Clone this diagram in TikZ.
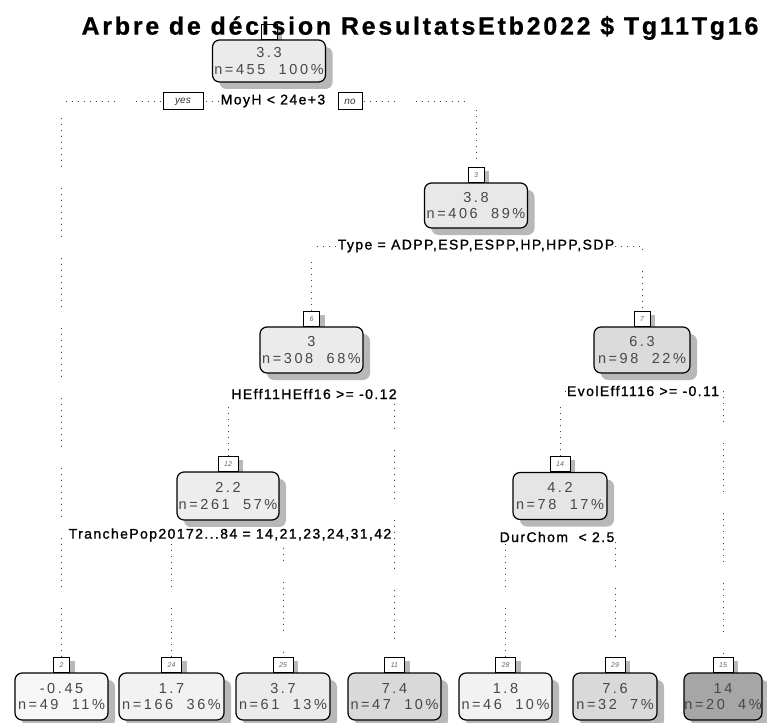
\documentclass[tikz,border=0pt]{standalone}
\usepackage{fontspec}
\setmainfont{Liberation Sans}
\newfontfamily\boxfont[LetterSpace=18]{Liberation Sans}
\newfontfamily\splitfam[LetterSpace=10,FakeBold=1.2]{Liberation Sans}
\newfontfamily\titlefam[LetterSpace=11,FakeBold=0.8]{Liberation Sans}
\usetikzlibrary{shadows}
\begin{document}
\begin{tikzpicture}[x=1pt,y=-1pt,
  dotline/.style={line width=0.9pt, black!75,
    dash pattern=on 1pt off 5pt on 1pt off 5pt on 1pt off 5pt on 1pt off 5pt on 1pt off 5pt on 1pt off 5pt on 1pt off 5pt on 1pt off 5pt on 1pt off 21pt},
  tbox/.style={draw, line width=1.2pt, rounded corners=7pt, inner sep=0pt, align=center,
    text=black!72, font=\boxfont\fontsize{14.5}{16.5}\selectfont,
    drop shadow={shadow xshift=7pt, shadow yshift=-7pt, fill=black!28, opacity=1}},
  nbox/.style={draw, line width=1pt, fill=white, inner sep=0pt, minimum width=16pt, minimum height=15pt,
    anchor=south, text=black!60, font=\fontsize{7}{8}\selectfont\itshape,
    drop shadow={shadow xshift=5pt, shadow yshift=-3pt, fill=black!28, opacity=1}},
  split/.style={fill=white, inner sep=1pt, text=black, font=\splitfam\fontsize{14}{16}\selectfont},
  yn/.style={draw, line width=1pt, fill=white, inner sep=0pt, minimum height=17pt, text=black!80,
    font=\fontsize{10}{12}\selectfont\itshape}]
\useasboundingbox (0,0) rectangle (767,722);
\fill[white] (0,0) rectangle (767,722);

% number boxes and main boxes
\node[nbox] (n1num) at (269,40) {};
\node[tbox, fill=black!8, minimum width=113pt, minimum height=42pt] (n1) at (269,61) {3.3\\n=455\ \ 100\%};

\node[nbox] (n3num) at (476,183) {3};
\node[tbox, fill=black!9, minimum width=103pt, minimum height=45pt] (n3) at (476,205.5) {3.8\\n=406\ \ 89\%};

\node[nbox] (n6num) at (311.5,327) {6};
\node[tbox, fill=black!8, minimum width=103pt, minimum height=46pt] (n6) at (311.5,350) {3\\n=308\ \ 68\%};

\node[nbox] (n7num) at (642,327) {7};
\node[tbox, fill=black!14, minimum width=96pt, minimum height=46pt] (n7) at (642,350) {6.3\\n=98\ \ 22\%};

\node[nbox, minimum width=20pt] (n12num) at (228,472) {12};
\node[tbox, fill=black!7, minimum width=102pt, minimum height=48pt] (n12) at (228,496) {2.2\\n=261\ \ 57\%};

\node[nbox, minimum width=20pt] (n14num) at (560,472) {14};
\node[tbox, fill=black!10, minimum width=94pt, minimum height=47pt] (n14) at (560,496) {4.2\\n=78\ \ 17\%};

\node[nbox] (l2num) at (61.5,673) {2};
\node[tbox, fill=black!3, minimum width=93pt, minimum height=47pt] (l2) at (61.5,696.5) {-0.45\\n=49\ \ 11\%};

\node[nbox, minimum width=20pt] (l24num) at (171.5,673) {24};
\node[tbox, fill=black!5, minimum width=105pt, minimum height=47pt] (l24) at (171.5,696.5) {1.7\\n=166\ \ 36\%};

\node[nbox, minimum width=20pt] (l25num) at (283,673) {25};
\node[tbox, fill=black!8, minimum width=94pt, minimum height=47pt] (l25) at (283,696.5) {3.7\\n=61\ \ 13\%};

\node[nbox, minimum width=20pt] (l11num) at (394.5,673) {11};
\node[tbox, fill=black!15, minimum width=93pt, minimum height=47pt] (l11) at (394.5,696.5) {7.4\\n=47\ \ 10\%};

\node[nbox, minimum width=20pt] (l28num) at (505.5,673) {28};
\node[tbox, fill=black!5, minimum width=93pt, minimum height=47pt] (l28) at (505.5,696.5) {1.8\\n=46\ \ 10\%};

\node[nbox, minimum width=20pt] (l29num) at (615,673) {29};
\node[tbox, fill=black!15, minimum width=84pt, minimum height=47pt] (l29) at (615,696.5) {7.6\\n=32\ \ 7\%};

\node[nbox, minimum width=20pt] (l15num) at (723,673) {15};
\node[tbox, fill=black!35, minimum width=78pt, minimum height=47pt] (l15) at (723,696.5) {14\\n=20\ \ 4\%};

% branch coordinates
\coordinate (r1) at (61.5,101);  \coordinate (r2) at (476,101);
\coordinate (a1) at (311.5,246); \coordinate (a2) at (642,246);
\coordinate (b1) at (228,396);   \coordinate (b2) at (394.5,396);
\coordinate (c1) at (560,391);   \coordinate (c2) at (723,391);
\coordinate (d1) at (171.5,535); \coordinate (d2) at (283,535);
\coordinate (e1) at (505.5,537); \coordinate (e2) at (615,537);

\draw[dotline] (l2num.north) -- (r1) -- (r2) -- (n3num.north);
\draw[dotline] (n6num.north) -- (a1) -- (a2) -- (n7num.north);
\draw[dotline] (n12num.north) -- (b1) -- (b2) -- (l11num.north);
\draw[dotline] (n14num.north) -- (c1) -- (c2) -- (l15num.north);
\draw[dotline] (l24num.north) -- (d1) -- (d2) -- (l25num.north);
\draw[dotline] (l28num.north) -- (e1) -- (e2) -- (l29num.north);

% split labels
\node[split] (s1) at (273,101) {MoyH < 24e+3};
\node[yn, minimum width=40pt] (yes) at (183,101.5) {yes};
\node[yn, minimum width=24pt] (no) at (350,101.5) {no};
\node[split] (s3) at (476,246) {Type = ADPP,ESP,ESPP,HP,HPP,SDP};
\node[split] (s6) at (314,394) {HEff11HEff16 >= -0.12};
\node[split] (s7) at (643,391) {EvolEff1116 >= -0.11};
\node[split] (s12) at (230,535) {TranchePop20172...84 = 14,21,23,24,31,42};
\node[split] (s14) at (557,537) {DurChom\ \ < 2.5};

% title
\node[font=\titlefam\bfseries\fontsize{25}{29}\selectfont, inner sep=0pt] (title) at (420,28) {Arbre de décision ResultatsEtb2022 \$ Tg11Tg16};
\end{tikzpicture}
\end{document}
